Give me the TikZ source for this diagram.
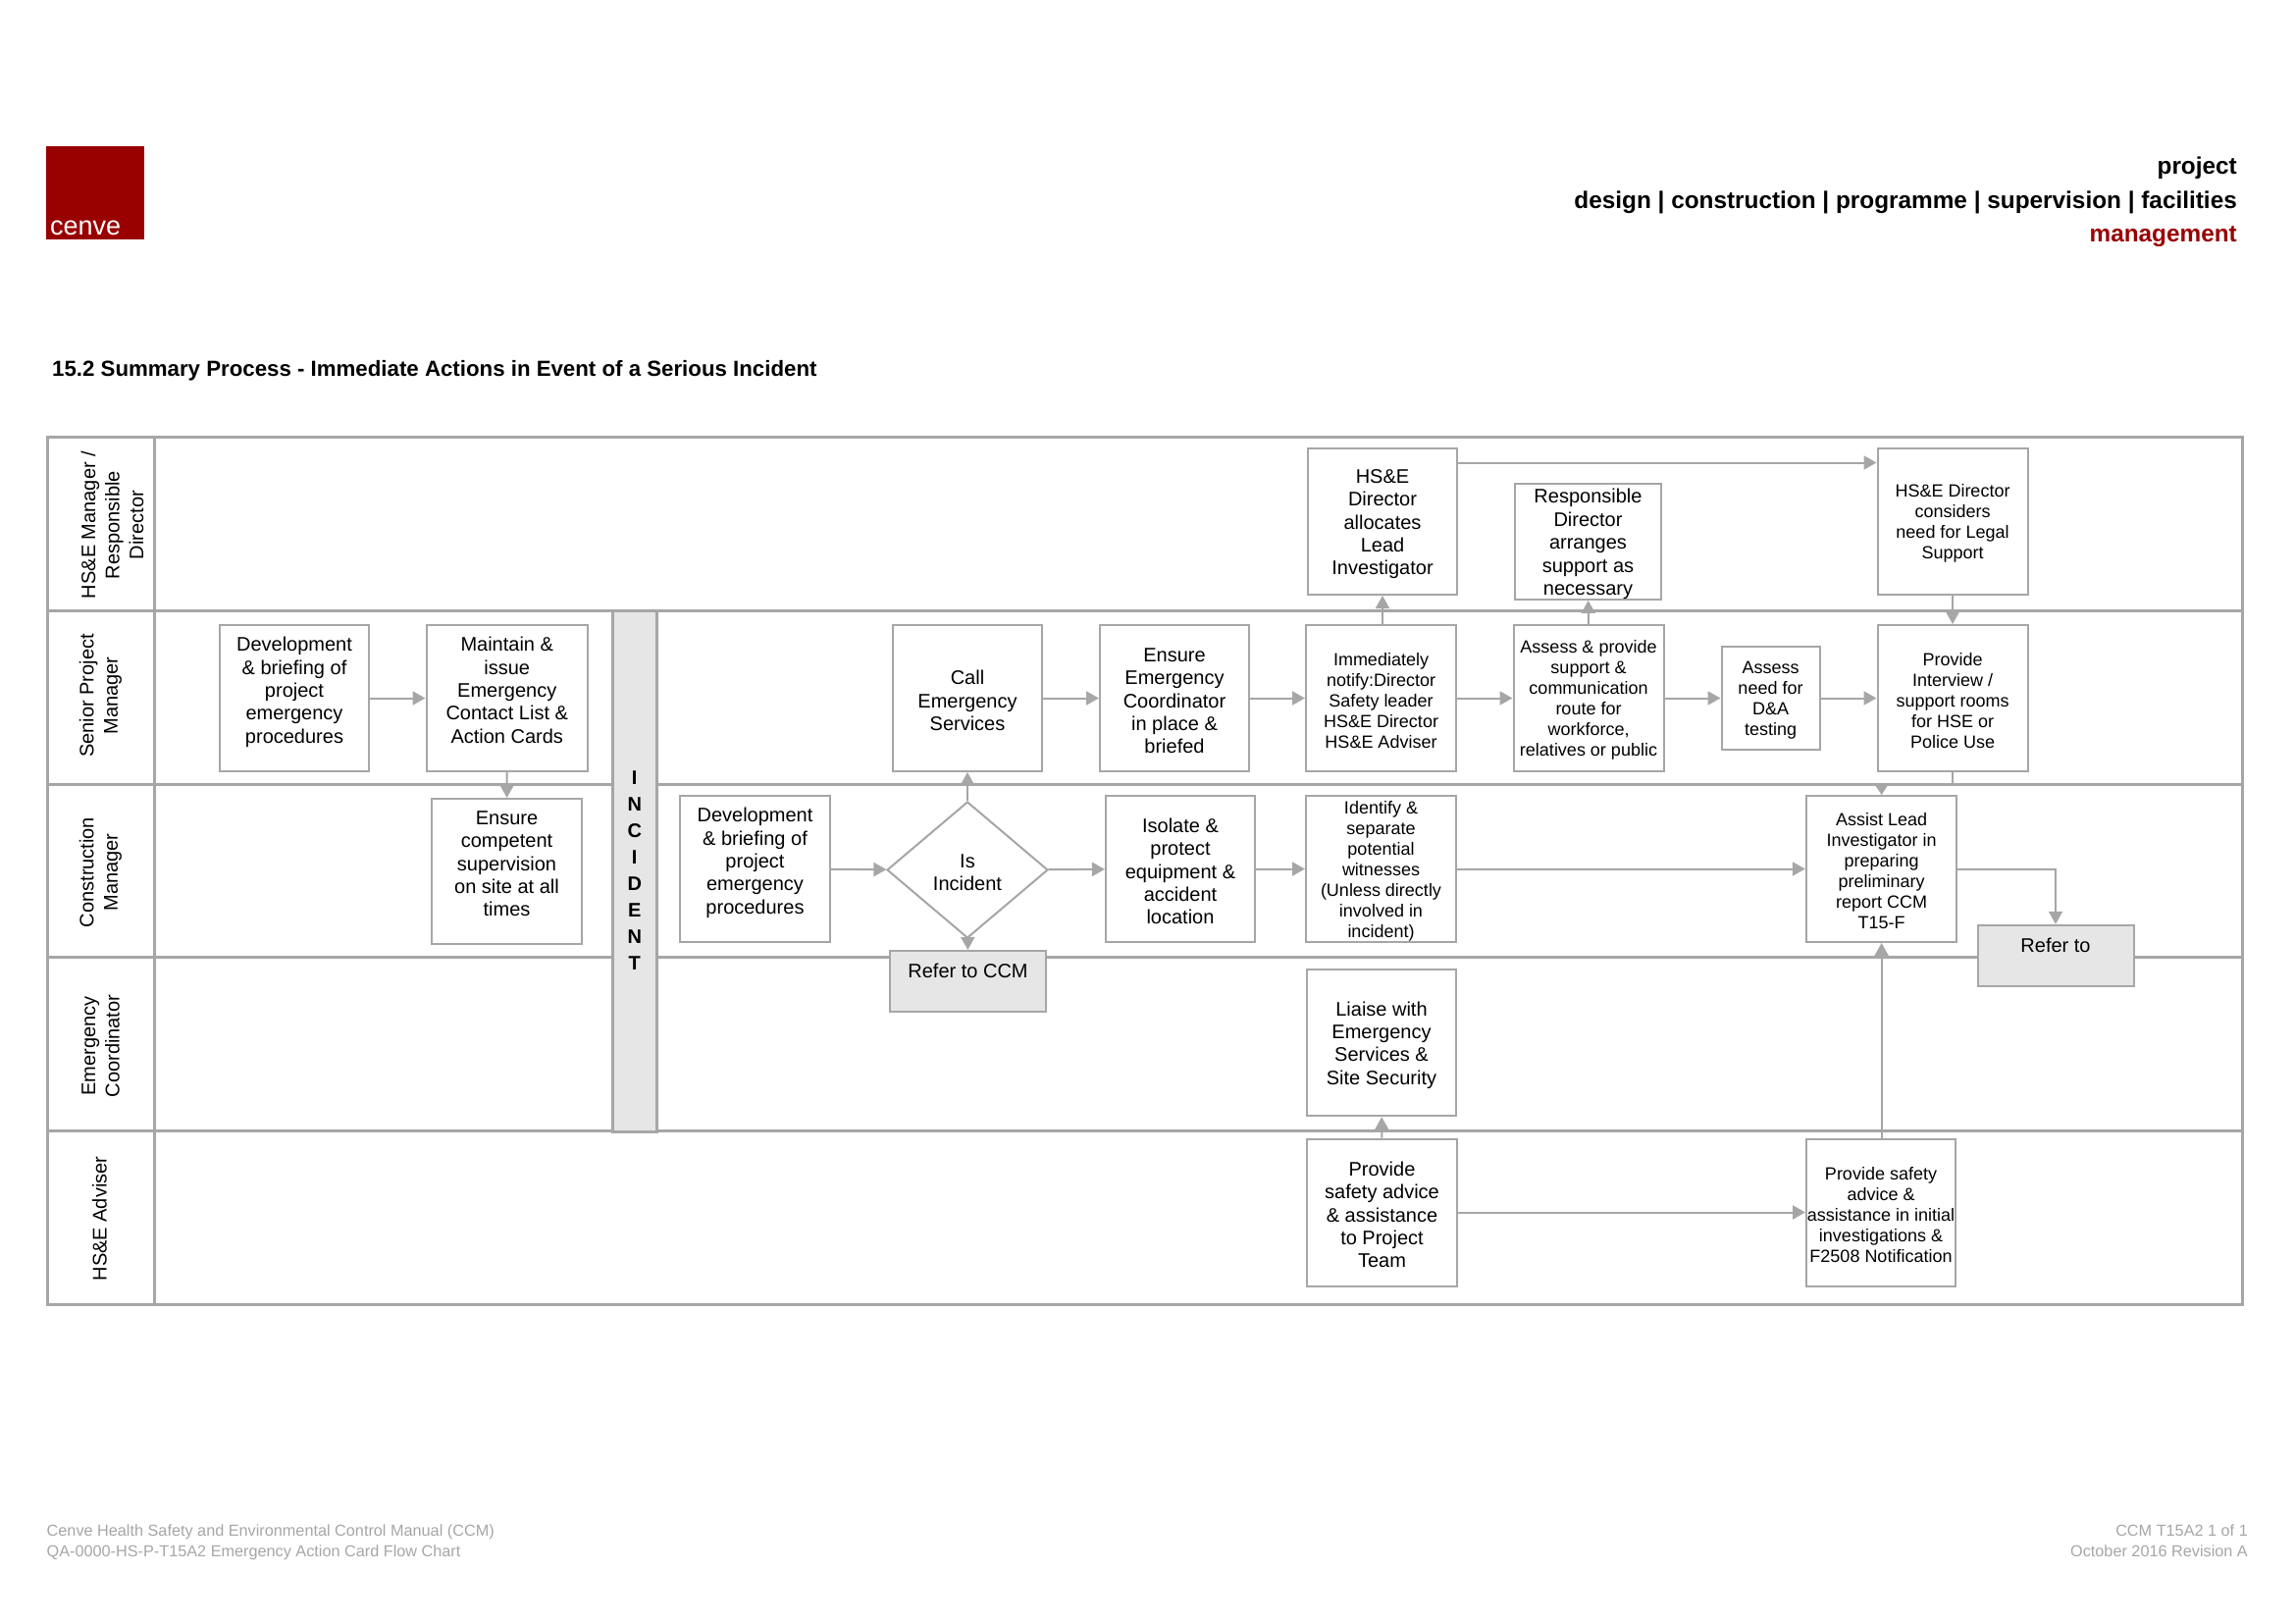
\documentclass[tikz,border=0pt]{standalone}
\usepackage{fontspec}
\setmainfont{Liberation Sans}
\usetikzlibrary{arrows.meta,shapes.geometric}
\definecolor{ln}{HTML}{A6A6A6}
\definecolor{fillg}{HTML}{E6E6E6}
\definecolor{brand}{HTML}{990000}
\newcommand\upshift{\\[-9pt]\strut}
\newcommand\dn{\rule{0pt}{.97em}}
\tikzset{
  lane/.style={draw=ln,line width=3pt},
  bx/.style={draw=ln,fill=white,line width=2pt,inner sep=0pt,align=center,font=\fontsize{20}{23.4}\selectfont},
  sm/.style={font=\fontsize{18}{21}\selectfont},
  refbx/.style={bx,fill=fillg},
  lanelabel/.style={rotate=90,align=center,inner sep=0pt,font=\fontsize{20}{24.5}\selectfont},
  arr/.style={draw=ln,line width=2pt,-{Triangle[length=13pt,width=14pt,color=ln]}},
  plain/.style={draw=ln,line width=2pt},
  foot/.style={text=ln,inner sep=0pt,font=\fontsize{16.25}{21}\selectfont},
  head/.style={inner sep=0pt,font=\fontsize{24.35}{28}\selectfont\bfseries},
}
\begin{document}
\begin{tikzpicture}[x=1pt,y=-1pt]
\useasboundingbox (0,0) rectangle (2339,1654);
% logo
\node[fill=brand,minimum width=99.5pt,minimum height=94.5pt,inner sep=0pt] (logo) at (96.75,196.5) {};
\node[text=white,inner sep=0pt,anchor=base west,font=\fontsize{27}{30}\selectfont] (logotxt) at (51,239) {cenve};
% header
\node[head,anchor=east] (h1) at (2280,171) {project};
\node[head,anchor=east] (h2) at (2280,206) {design | construction | programme | supervision | facilities};
\node[head,anchor=east,text=brand] (h3) at (2280,241) {management};
\node[inner sep=0pt,anchor=west,font=\fontsize{22.26}{26}\selectfont\bfseries] (title) at (53,378) {15.2 Summary Process - Immediate Actions in Event of a Serious Incident};
% lanes
\coordinate (L3) at (0,799.4);
\draw[lane] (48,445.5) rectangle (2285,1329);
\draw[lane] (157.3,445.5) -- (157.3,1329);
\draw[lane] (48,622) -- (2285,622);
\draw[lane] (48,799.4) -- (2285,799.4);
\draw[lane] (48,975.5) -- (2285,975.5);
\draw[lane] (48,1152.5) -- (2285,1152.5);
\node[lanelabel] (l1) at (114.5,535) {HS\&E Manager /\\Responsible\\Director};
\node[lanelabel] (l2) at (102.5,709) {Senior Project\\Manager};
\node[lanelabel] (l3) at (102.5,889) {Construction\\Manager};
\node[lanelabel] (l4) at (102.5,1066) {Emergency\\Coordinator};
\node[lanelabel] (l5) at (101.5,1242) {HS\&E Adviser};
% incident bar
\node[draw=ln,fill=fillg,line width=3pt,inner sep=0pt,minimum width=45pt,minimum height=531pt,align=center,font=\fontsize{20}{27}\selectfont\bfseries] (incident) at (646.75,887.5) {I\\N\\C\\I\\D\\E\\N\\T};
% nodes
\node[bx,minimum width=152,minimum height=149] (dev1) at (300,711.5) {\dn Development\\\& briefing of\\project\\emergency\\procedures\upshift};
\node[bx,minimum width=164.5,minimum height=149] (maintain) at (516.75,711.5) {\dn Maintain \&\\issue\\Emergency\\Contact List \&\\Action Cards\upshift};
\node[bx,minimum width=153,minimum height=148] (ensurec) at (516.5,888) {\dn Ensure\\competent\\supervision\\on site at all\\times\upshift};
\node[bx,minimum width=153,minimum height=149] (dev2) at (769.5,885.5) {\dn Development\\\& briefing of\\project\\emergency\\procedures\upshift};
\node[bx,diamond,minimum width=164,minimum height=139] (dec) at (986,886.5) {\dn Is\\Incident};
\node[refbx,minimum width=159,minimum height=62] (refccm) at (986.5,1000) {\dn Refer to CCM\\[-4pt]\strut};
\node[bx,minimum width=152,minimum height=149] (call) at (986,711.5) {\dn Call\\Emergency\\Services};
\node[bx,minimum width=152,minimum height=149] (ensure) at (1197,711.5) {\dn Ensure\\Emergency\\Coordinator\\in place \&\\briefed};
\node[bx,minimum width=152,minimum height=149] (isolate) at (1203,885.5) {\dn Isolate \&\\protect\\equipment \&\\accident\\location};
\node[bx,sm,minimum width=153,minimum height=149] (imm) at (1407.5,711.5) {\dn Immediately\\notify:Director\\Safety leader\\HS\&E Director\\HS\&E Adviser};
\node[bx,minimum width=152.5,minimum height=149] (alloc) at (1409,531.5) {\dn HS\&E\\Director\\allocates\\Lead\\Investigator};
\node[bx,sm,minimum width=153,minimum height=149] (identify) at (1407.5,885.5) {\dn Identify \&\\separate\\potential\\witnesses\\(Unless directly\\involved in\\incident)};
\node[bx,minimum width=152,minimum height=149.5] (liaise) at (1408,1062.5) {\dn Liaise with\\Emergency\\Services \&\\Site Security};
\node[bx,minimum width=153,minimum height=150] (safety) at (1408.5,1235.5) {\dn Provide\\safety advice\\\& assistance\\to Project\\Team};
\node[bx,minimum width=149,minimum height=118] (resp) at (1618.5,552) {\dn Responsible\\Director\\arranges\\support as\\necessary};
\node[bx,sm,minimum width=153,minimum height=149] (assess) at (1619,711.5) {\dn Assess \& provide\\support \&\\communication\\route for\\workforce,\\relatives or public};
\node[bx,sm,minimum width=100,minimum height=105] (need) at (1804.5,711.5) {\dn Assess\\need for\\D\&A\\testing};
\node[bx,sm,minimum width=153,minimum height=149] (consid) at (1990,531.5) {\dn HS\&E Director\\considers\\need for Legal\\Support};
\node[bx,sm,minimum width=153,minimum height=149] (interview) at (1990,711.5) {\dn Provide\\Interview /\\support rooms\\for HSE or\\Police Use};
\node[bx,sm,minimum width=153.5,minimum height=149] (assist) at (1917.6,885.5) {\dn Assist Lead\\Investigator in\\preparing\\preliminary\\report CCM\\T15-F};
\node[refbx,minimum width=159,minimum height=62] (refto) at (2095,973.8) {\dn Refer to\\[-4pt]\strut};
\node[bx,sm,minimum width=152,minimum height=150] (safety2) at (1917,1235.5) {\dn Provide safety\\advice \&\\assistance in initial\\investigations \&\\F2508 Notification};
% connectors
\draw[arr] (dev1) -- (maintain);
\draw[arr] (maintain) -- (ensurec);
\draw[arr] (dev2) -- (dec);
\draw[arr] (dec) -- (call);
\draw[arr] (dec) -- (refccm);
\draw[arr] (dec) -- (isolate);
\draw[arr] (isolate) -- (identify);
\draw[arr] (identify.east) -- (identify.east -| assist.west);
\draw[arr] (call) -- (ensure);
\draw[arr] (ensure) -- (imm);
\draw[arr] (imm) -- (assess);
\draw[arr] (assess) -- (need);
\draw[arr] (need) -- (interview);
\draw[arr] (imm.north -| alloc.south) -- (alloc.south);
\draw[arr] (assess) -- (resp);
\draw[arr] ([yshift=60pt]alloc.east) -- ([yshift=60pt]alloc.east -| consid.west);
\draw[arr] (consid) -- (interview);
\draw[plain] (interview.south) -- (interview.south |- L3) -- (assist.north |- L3);
\draw[draw=ln,line width=2pt,-{Triangle[length=11pt,width=14pt,color=ln]}] (assist.north |- L3) -- (assist.north);
\draw[arr] (assist.east) -| (refto.north);
\draw[arr] (safety) -- (liaise);
\draw[arr] (safety) -- (safety2);
\draw[arr] (safety2.north -| assist.south) -- (assist.south);
% footer
\node[foot,anchor=west] (f1) at (47.5,1561) {Cenve Health Safety and Environmental Control Manual (CCM)};
\node[foot,anchor=west] (f2) at (47.5,1582) {QA-0000-HS-P-T15A2 Emergency Action Card Flow Chart};
\node[foot,anchor=east] (f3) at (2291,1560) {CCM T15A2 1 of 1};
\node[foot,anchor=east] (f4) at (2291,1581) {October 2016 Revision A};
\end{tikzpicture}
\end{document}
